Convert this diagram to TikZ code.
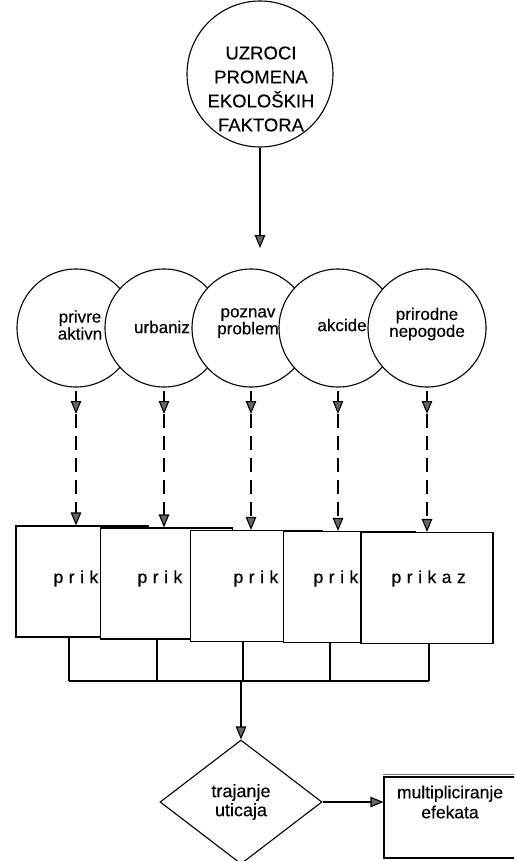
\documentclass[tikz,border=0pt]{standalone}
\usepackage{fontspec}
\setmainfont{Liberation Sans}[FakeBold=0.25]
\usetikzlibrary{shapes.geometric,arrows.meta}
\begin{document}
\begin{tikzpicture}[x=1pt,y=-1pt,
  line width=1.1pt,
  arr/.style={-{Triangle[length=13pt,width=10.5pt,fill=black!60]}},
  bigcirc/.style={circle,draw,fill=white,minimum size=146pt,inner sep=0pt},
  smallcirc/.style={circle,draw,fill=white,minimum size=118pt,inner sep=0pt},
  ctext/.style={align=center,font=\fontsize{17}{17}\selectfont,inner sep=0pt},
  toptext/.style={align=center,font=\fontsize{18.5}{24}\selectfont,inner sep=0pt},
  pbox/.style={rectangle,draw,fill=white,minimum width=132pt,minimum height=111pt,inner sep=0pt},
  ptext/.style={anchor=base west,font=\fontsize{17.5}{17}\selectfont,inner sep=0pt},
  dashline/.style={dash pattern=on 14pt off 8pt},
  dia/.style={diamond,draw,fill=white,minimum width=162pt,minimum height=124pt,inner sep=0pt,align=center,font=\fontsize{18}{19}\selectfont},
  mbox/.style={rectangle,draw,fill=white,minimum width=132pt,minimum height=81pt,inner sep=0pt},
  mtext/.style={align=center,font=\fontsize{17.5}{20}\selectfont,inner sep=0pt}
]
\useasboundingbox (0,0) rectangle (514,861);
\clip (0,0) rectangle (514,861);

% top circle
\node[bigcirc] (top) at (260,74) {};
\node[toptext] (toptxt) at (261,89) {UZROCI\\PROMENA\\EKOLOŠKIH\\FAKTORA};
\coordinate (toparrow) at (260,248);
\draw[arr] (top.south) -- (toparrow);

% row of circles
\node[smallcirc] (c1) at (76,328) {};
\node[ctext] (t1) at (80,325) {privre\\aktivn};
\node[smallcirc] (c2) at (164,328) {};
\node[ctext] (t2) at (162,327) {urbaniz};
\node[smallcirc] (c3) at (251,328) {};
\node[ctext] (t3) at (248,323) {poznav\\problem};
\node[smallcirc] (c4) at (338,328) {};
\node[ctext] (t4) at (342,325) {akcide};
\node[smallcirc] (c5) at (427,328) {};
\node[ctext] (t5) at (427,324) {prirodne\\nepogode};

% boxes
\node[pbox] (b1) at (82,581.5) {};
\node[ptext] (p1) at (53,583) {p\kern5.5pt r\kern5.5pt i\kern5.5pt k};
\node[pbox] (b2) at (166.5,583.5) {};
\node[ptext] (p2) at (137,583) {p\kern5.5pt r\kern5.5pt i\kern5.5pt k};
\node[pbox] (b3) at (256.5,586) {};
\node[ptext] (p3) at (233,583) {p\kern5.5pt r\kern5.5pt i\kern5.5pt k};
\node[pbox] (b4) at (349.5,587) {};
\node[ptext] (p4) at (313,583) {p\kern5.5pt r\kern5.5pt i\kern5.5pt k};
\node[pbox] (b5) at (427,588) {};
\node[ptext] (p5) at (391,583) {p\kern5.5pt r\kern5.5pt i\kern5.5pt k\kern5.5pt a\kern5.5pt z};

% arrows from circles to boxes
\foreach \i in {1,...,5}{
  \coordinate (m\i) at (c\i.south |- 0,414);
  \draw[arr] ([yshift=-3pt]c\i.south) -- (m\i);
  \draw[arr,dashline] (m\i) -- (m\i |- b\i.north);
}

% bus below boxes
\coordinate (j1) at (69,681);
\coordinate (j2) at (157,681);
\coordinate (j3) at (243,681);
\coordinate (j4) at (330,681);
\coordinate (j5) at (429,681);
\foreach \i in {1,...,5}{
  \draw (j\i |- b\i.south) -- (j\i);
}
\draw (j1) -- (j5);
\coordinate (jc) at (241,681);

% diamond and result box
\node[dia] (d) at (241,802) {trajanje\\uticaja};
\draw[arr] (jc) -- (d.north);
\node[mbox] (mb) at (450,817.5) {};
\draw[line width=1.6pt,black!55] ([yshift=2pt]mb.north west) -- ([yshift=2pt]mb.north east);
\node[mtext] (mt) at (450,802) {multipliciranje\\efekata};
\draw[arr] (d.east) -- (d.east -| mb.west);
\end{tikzpicture}
\end{document}
